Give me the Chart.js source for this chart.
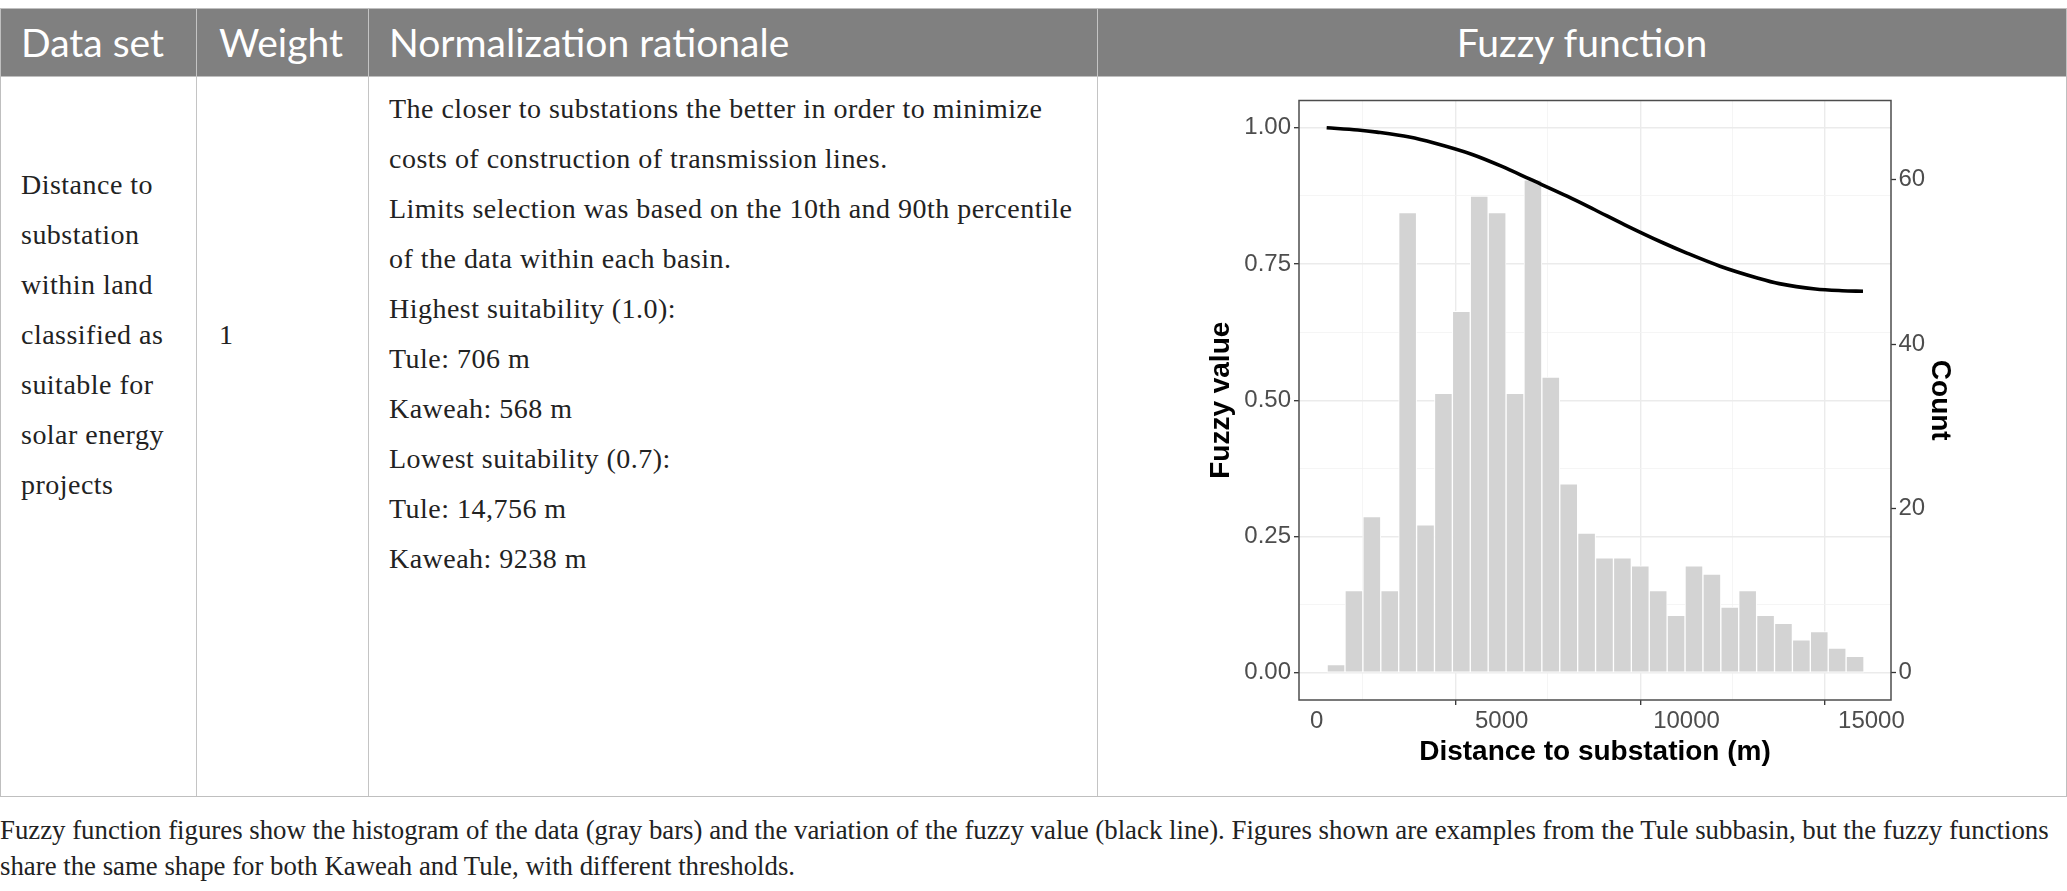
<!DOCTYPE html>
<html>
<head>
<meta charset="utf-8">
<script src="https://cdn.jsdelivr.net/npm/chart.js@4"></script>
<style>
  html, body { margin: 0; padding: 0; background: #fff; }
  body { width: 2067px; height: 891px; position: relative; overflow: hidden; }
  .frame { position: absolute; left: 0; top: 8px; width: 2067px; height: 789px; box-sizing: border-box; border: 1px solid #bfbfbf; }
  .head { position: absolute; left: 0; top: 9px; width: 2067px; height: 67px; background: #808080; }
  .vline { position: absolute; top: 9px; width: 1px; height: 787px; background: #c4c4c4; }
  .hline { position: absolute; left: 0; width: 2067px; height: 1px; background: #bfbfbf; }
  .ht { position: absolute; top: 9px; height: 67px; line-height: 67px; color: #fff; font-family: Lato, "Open Sans", sans-serif; font-size: 39px; white-space: nowrap; }
  .bt { position: absolute; color: #222; font-family: "Liberation Serif", "DejaVu Serif", serif; font-size: 28px; letter-spacing: 0.48px; line-height: 50px; white-space: nowrap; }
  .cap { position: absolute; left: 0; top: 812px; color: #222; font-family: "Liberation Serif", serif; font-size: 26.8px; line-height: 36px; white-space: nowrap; }
  #chartBox { position: absolute; left: 1190px; top: 90px; width: 770px; height: 700px; }
</style>
</head>
<body>
<div class="head"></div>
<div class="frame"></div>
<div class="hline" style="top:76px"></div>
<div class="vline" style="left:196px"></div>
<div class="vline" style="left:368px"></div>
<div class="vline" style="left:1097px"></div>

<div class="ht" style="left:21px">Data set</div>
<div class="ht" style="left:219px">Weight</div>
<div class="ht" style="left:389px">Normalization rationale</div>
<div class="ht" style="left:1097px;width:970px;text-align:center">Fuzzy function</div>

<div class="bt" style="left:21px;top:160px">Distance to<br>substation<br>within land<br>classified as<br>suitable for<br>solar energy<br>projects</div>
<div class="bt" style="left:219px;top:310px">1</div>
<div class="bt" style="left:389px;top:84px">The closer to substations the better in order to minimize<br>costs of construction of transmission lines.<br>Limits selection was based on the 10th and 90th percentile<br>of the data within each basin.<br>Highest suitability (1.0):<br>Tule: 706 m<br>Kaweah: 568 m<br>Lowest suitability (0.7):<br>Tule: 14,756 m<br>Kaweah: 9238 m</div>

<div class="cap">Fuzzy function figures show the histogram of the data (gray bars) and the variation of the fuzzy value (black line). Figures shown are examples from the Tule subbasin, but the fuzzy functions<br>share the same shape for both Kaweah and Tule, with different thresholds.</div>

<div id="chartBox"><canvas id="fuzzyChart"></canvas></div>

<script>
// histogram bins (centre of each bin, metres) and counts
const binCenters = [522, 1006, 1490, 1974, 2458, 2942, 3426, 3910, 4394, 4878,
  5362, 5846, 6330, 6814, 7298, 7782, 8266, 8750, 9234, 9718,
  10202, 10686, 11170, 11654, 12138, 12622, 13106, 13590, 14074, 14558];
const binCounts = [1, 10, 19, 10, 56, 18, 34, 44, 58, 56,
  34, 60, 36, 23, 17, 14, 14, 13, 10, 7,
  13, 12, 8, 10, 7, 6, 4, 5, 3, 2];

// fuzzy membership curve
const fuzzyX = [268, 1113, 1629, 2505, 3175, 4206, 5010, 5753, 6784, 7505,
  8330, 9361, 10010, 10907, 11938, 12505, 13485, 14206, 14773];
const fuzzyY = [1.000, 0.996, 0.992, 0.983, 0.972, 0.951, 0.929, 0.906, 0.874, 0.850,
  0.822, 0.789, 0.770, 0.746, 0.724, 0.714, 0.704, 0.701, 0.700];

const xTicks = [0, 2500, 5000, 7500, 10000, 12500, 15000];
const xLabels = [0, 5000, 10000, 15000];
const yTicks = [0, 0.125, 0.25, 0.375, 0.5, 0.625, 0.75, 0.875, 1];
const yLabels = [0, 0.25, 0.5, 0.75, 1];
const countTicks = [0, 20, 40, 60];

const countPerFuzzy = 66.33; // secondary axis scaling

const axisFont = { family: "'Liberation Sans', Arial, sans-serif", size: 24 };
const titleFont = { family: "'Liberation Sans', Arial, sans-serif", size: 28, weight: 'bold' };

// is the tick in the context one of the labelled (major) ones?
function major(list, c) {
  return c.tick ? list.includes(c.tick.value) : true;
}

// fixed axis sizes so the panel sits where it does in the figure
function fitSize(prop, size) {
  return s => {
    s[prop] = size;
    s.paddingTop = 0; s.paddingBottom = 0; s.paddingLeft = 0; s.paddingRight = 0;
  };
}

const panelBorder = {
  id: 'panelBorder',
  afterDatasetsDraw(chart) {
    const { ctx, chartArea: a } = chart;
    ctx.save();
    ctx.strokeStyle = '#4d4d4d';
    ctx.lineWidth = 1.5;
    ctx.strokeRect(a.left, a.top, a.right - a.left, a.bottom - a.top);
    ctx.restore();
  }
};

new Chart(document.getElementById('fuzzyChart'), {
  type: 'bar',
  data: {
    datasets: [
      {
        type: 'line',
        data: fuzzyX.map((x, i) => ({ x: x, y: fuzzyY[i] })),
        xAxisID: 'x',
        yAxisID: 'y',
        borderColor: '#000',
        borderWidth: 3.6,
        pointRadius: 0,
        cubicInterpolationMode: 'monotone',
        order: 0
      },
      {
        type: 'bar',
        data: binCenters.map((x, i) => ({ x: x, y: binCounts[i] })),
        xAxisID: 'x',
        yAxisID: 'yCount',
        backgroundColor: '#d3d3d3',
        borderColor: '#ffffff',
        borderWidth: 1,
        borderSkipped: false,
        barPercentage: 1,
        categoryPercentage: 1,
        order: 1
      }
    ]
  },
  options: {
    responsive: true,
    maintainAspectRatio: false,
    animation: false,
    layout: { padding: { top: 10.5, left: 0, right: 0, bottom: 0 } },
    plugins: { legend: { display: false }, tooltip: { enabled: false } },
    scales: {
      x: {
        type: 'linear',
        position: 'bottom',
        min: -480,
        max: 15530,
        offset: false,
        afterBuildTicks: s => { s.ticks = xTicks.map(v => ({ value: v })); },
        afterFit: fitSize('height', 90),
        ticks: {
          autoSkip: false, maxRotation: 0, padding: 2, color: '#4d4d4d', font: axisFont,
          callback: v => xLabels.includes(v) ? String(v) : ''
        },
        grid: {
          color: c => major(xLabels, c) ? '#ebebeb' : '#f3f3f3',
          lineWidth: c => major(xLabels, c) ? 1.4 : 0.8,
          tickColor: c => major(xLabels, c) ? '#333' : 'rgba(0,0,0,0)',
          tickWidth: 1.3,
          tickLength: 5
        },
        border: { display: false },
        title: { display: true, text: 'Distance to substation (m)', color: '#000', font: titleFont, padding: { top: 0, bottom: 20.6 } }
      },
      y: {
        type: 'linear',
        position: 'left',
        min: -0.05,
        max: 1.05,
        afterBuildTicks: s => { s.ticks = yTicks.map(v => ({ value: v })); },
        afterFit: fitSize('width', 109),
        ticks: {
          padding: 3, color: '#4d4d4d', font: axisFont,
          callback: v => yLabels.includes(v) ? v.toFixed(2) : ''
        },
        grid: {
          color: c => major(yLabels, c) ? '#ebebeb' : '#f3f3f3',
          lineWidth: c => major(yLabels, c) ? 1.4 : 0.8,
          tickColor: c => major(yLabels, c) ? '#333' : 'rgba(0,0,0,0)',
          tickWidth: 1.3,
          tickLength: 5
        },
        border: { display: false },
        title: { display: true, text: 'Fuzzy value', color: '#000', font: titleFont, padding: { top: 14, bottom: 0 } }
      },
      yCount: {
        type: 'linear',
        position: 'right',
        min: -0.05 * countPerFuzzy,
        max: 1.05 * countPerFuzzy,
        afterBuildTicks: s => { s.ticks = countTicks.map(v => ({ value: v })); },
        afterFit: fitSize('width', 69),
        ticks: { padding: 2.5, color: '#4d4d4d', font: axisFont, callback: v => String(v) },
        grid: { drawOnChartArea: false, tickColor: '#333', tickWidth: 1.3, tickLength: 5 },
        border: { display: false },
        title: { display: true, text: 'Count', color: '#000', font: titleFont, padding: { top: 3.2, bottom: 0 } }
      }
    }
  },
  plugins: [panelBorder]
});
</script>
</body>
</html>
